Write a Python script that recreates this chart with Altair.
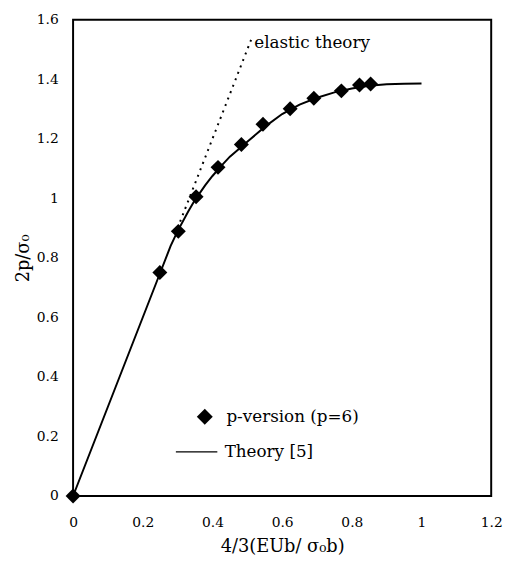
import altair as alt
import pandas as pd

# FEM results (p-version, p=6)
pv_x = [0.0, 0.249, 0.302, 0.353, 0.416, 0.483, 0.545, 0.623, 0.691, 0.770, 0.822, 0.854]
pv_y = [0.0, 0.751, 0.889, 1.005, 1.104, 1.181, 1.249, 1.301, 1.336, 1.361, 1.381, 1.384]

# Theory [5] curve
th_x = [0.0, 0.25, 0.28, 0.30, 0.33, 0.35, 0.38, 0.40, 0.43, 0.45, 0.48, 0.50,
        0.55, 0.60, 0.65, 0.70, 0.75, 0.80, 0.85, 0.90, 0.95, 1.00]
th_y = [0.0, 0.75, 0.84, 0.89, 0.955, 0.995, 1.045, 1.075, 1.115, 1.14, 1.17, 1.19,
        1.24, 1.283, 1.315, 1.338, 1.356, 1.369, 1.378, 1.383, 1.385, 1.386]

# elastic theory (dotted)
el_x = [0.30, 0.512]
el_y = [0.90, 1.536]

# legend / annotation positions (data coordinates)
leg_sym_x, leg_sym_y = [0.378], [0.266]
leg_line_x, leg_line_y = [0.295, 0.414], [0.148, 0.148]
labels = ["p-version (p=6)", "Theory [5]", "elastic theory"]
label_x = [0.44, 0.435, 0.52]
label_y = [0.266, 0.148, 1.52]

FONT = "DejaVu Serif"

xs = alt.Scale(domain=[0, 1.2], nice=False)
ys = alt.Scale(domain=[0, 1.6], nice=False)

xax = alt.Axis(values=[0, 0.2, 0.4, 0.6, 0.8, 1.0, 1.2], format="~g", grid=False, ticks=False,
               domain=False, labelFont=FONT, labelFontSize=14, labelColor="black",
               labelPadding=20, labelFlush=False,
               title="4/3(EUb/ σ₀b)", titleFont=FONT, titleFontSize=18,
               titleFontWeight="normal", titleColor="black", titlePadding=8)
yax = alt.Axis(values=[0, 0.2, 0.4, 0.6, 0.8, 1.0, 1.2, 1.4, 1.6], format="~g", grid=False,
               ticks=False, domain=False, labelFont=FONT, labelFontSize=14, labelColor="black",
               labelPadding=15, labelFlush=False,
               title="2p/σ₀", titleFont=FONT, titleFontSize=18,
               titleFontWeight="normal", titleColor="black", titlePadding=4)

pv = pd.DataFrame({"x": pv_x, "y": pv_y})
th = pd.DataFrame({"x": th_x, "y": th_y})
el = pd.DataFrame({"x": el_x, "y": el_y})
lsym = pd.DataFrame({"x": leg_sym_x, "y": leg_sym_y})
lline = pd.DataFrame({"x": leg_line_x, "y": leg_line_y})
ltext = pd.DataFrame({"x": label_x, "y": label_y, "t": labels})

theory = alt.Chart(th).mark_line(color="black", strokeWidth=2).encode(
    x=alt.X("x:Q", scale=xs, axis=xax), y=alt.Y("y:Q", scale=ys, axis=yax))
elastic = alt.Chart(el).mark_line(color="black", strokeWidth=2, strokeDash=[2, 5]).encode(
    x=alt.X("x:Q", scale=xs), y=alt.Y("y:Q", scale=ys))
points = alt.Chart(pv).mark_point(shape="diamond", filled=True, color="black",
                                  size=230, opacity=1).encode(
    x=alt.X("x:Q", scale=xs), y=alt.Y("y:Q", scale=ys))
legsym = alt.Chart(lsym).mark_point(shape="diamond", filled=True, color="black",
                                    size=260, opacity=1).encode(
    x=alt.X("x:Q", scale=xs), y=alt.Y("y:Q", scale=ys))
legline = alt.Chart(lline).mark_line(color="black", strokeWidth=1.2).encode(
    x=alt.X("x:Q", scale=xs), y=alt.Y("y:Q", scale=ys))
legtext = alt.Chart(ltext).mark_text(align="left", baseline="middle", font=FONT,
                                     fontSize=17, color="black").encode(
    x=alt.X("x:Q", scale=xs), y=alt.Y("y:Q", scale=ys), text="t:N")

chart = alt.layer(theory, elastic, points, legsym, legline, legtext).properties(
    width=424, height=483,
    autosize=alt.AutoSizeParams(type="none"),
    padding={"left": 66, "top": 8, "right": 14, "bottom": 60},
    background="white",
).configure_view(stroke="black", strokeWidth=2)

chart.save("out.html", embed_options={"renderer": "svg", "actions": False})
